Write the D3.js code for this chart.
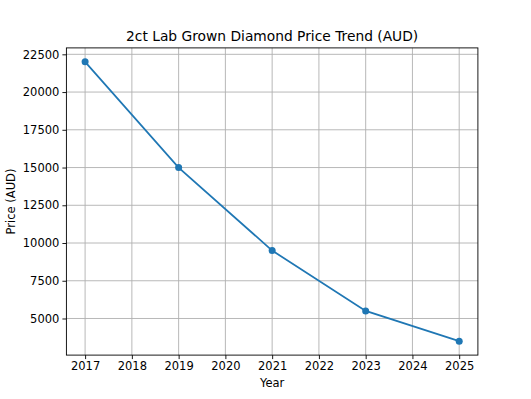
<!DOCTYPE html>
<html><head><meta charset="utf-8">
<script src="https://cdn.jsdelivr.net/npm/d3@7"></script>
<style>body{margin:0;background:#fff}svg{display:block;font-family:"DejaVu Sans",sans-serif}</style>
</head><body><svg id="c" width="531" height="399"></svg>
<script>
const years = [2017, 2019, 2021, 2023, 2025];
const prices = [22000, 15000, 9500, 5500, 3500];
const xTicks = [2017, 2018, 2019, 2020, 2021, 2022, 2023, 2024, 2025];
const yTicks = [5000, 7500, 10000, 12500, 15000, 17500, 20000, 22500];
const title = "2ct Lab Grown Diamond Price Trend (AUD)";
const xLabel = "Year";
const yLabel = "Price (AUD)";

const svg = d3.select("#c");
const L = 66.4, R = 477.9, T = 47.9, B = 355.1;
const c = "#1f77b4";
const xmin = d3.min(years), xmax = d3.max(years), xp = (xmax - xmin) * 0.05;
const ymin = d3.min(prices), ymax = d3.max(prices), yp = (ymax - ymin) * 0.05;
const x = d3.scaleLinear().domain([xmin - xp, xmax + xp]).range([L, R]);
const y = d3.scaleLinear().domain([ymin - yp, ymax + yp]).range([B, T]);

// grid
const g = svg.append("g");
g.selectAll(".gx").data(xTicks).enter().append("line")
  .attr("x1", d => x(d)).attr("x2", d => x(d)).attr("y1", T).attr("y2", B)
  .attr("stroke", "#b0b0b0").attr("stroke-width", 0.9);
g.selectAll(".gy").data(yTicks).enter().append("line")
  .attr("y1", d => y(d)).attr("y2", d => y(d)).attr("x1", L).attr("x2", R)
  .attr("stroke", "#b0b0b0").attr("stroke-width", 0.9);

// axes
const xa = svg.append("g").attr("transform", `translate(0,${B})`)
  .call(d3.axisBottom(x).tickValues(xTicks).tickFormat(d3.format("d")).tickSize(4).tickPadding(3));
const ya = svg.append("g").attr("transform", `translate(${L},0)`)
  .call(d3.axisLeft(y).tickValues(yTicks).tickFormat(d3.format("d")).tickSize(4).tickPadding(3));
[xa, ya].forEach(a => {
  a.select(".domain").remove();
  a.selectAll(".tick line").attr("stroke", "#000").attr("stroke-width", 0.9);
  a.selectAll(".tick text").attr("fill", "#000").style("font-size", "11.5px").style("font-family", "DejaVu Sans");
});

// line + markers
svg.append("path").datum(years.map((d, i) => [d, prices[i]]))
  .attr("d", d3.line().x(d => x(d[0])).y(d => y(d[1])))
  .attr("fill", "none").attr("stroke", c).attr("stroke-width", 1.75);
svg.selectAll(".pt").data(years).enter().append("circle")
  .attr("cx", d => x(d)).attr("cy", (d, i) => y(prices[i])).attr("r", 3.5).attr("fill", c);

// frame
svg.append("rect").attr("x", L).attr("y", T).attr("width", R - L).attr("height", B - T)
  .attr("fill", "none").attr("stroke", "#000").attr("stroke-width", 0.9);

// text
svg.append("text").attr("x", (L + R) / 2).attr("y", 41).attr("text-anchor", "middle")
  .style("font-size", "13.8px").text(title);
svg.append("text").attr("x", (L + R) / 2).attr("y", 387).attr("text-anchor", "middle")
  .style("font-size", "11.5px").text(xLabel);
svg.append("text").attr("transform", `translate(15,${(T + B) / 2}) rotate(-90)`).attr("text-anchor", "middle")
  .style("font-size", "11.5px").text(yLabel);
</script></body></html>
